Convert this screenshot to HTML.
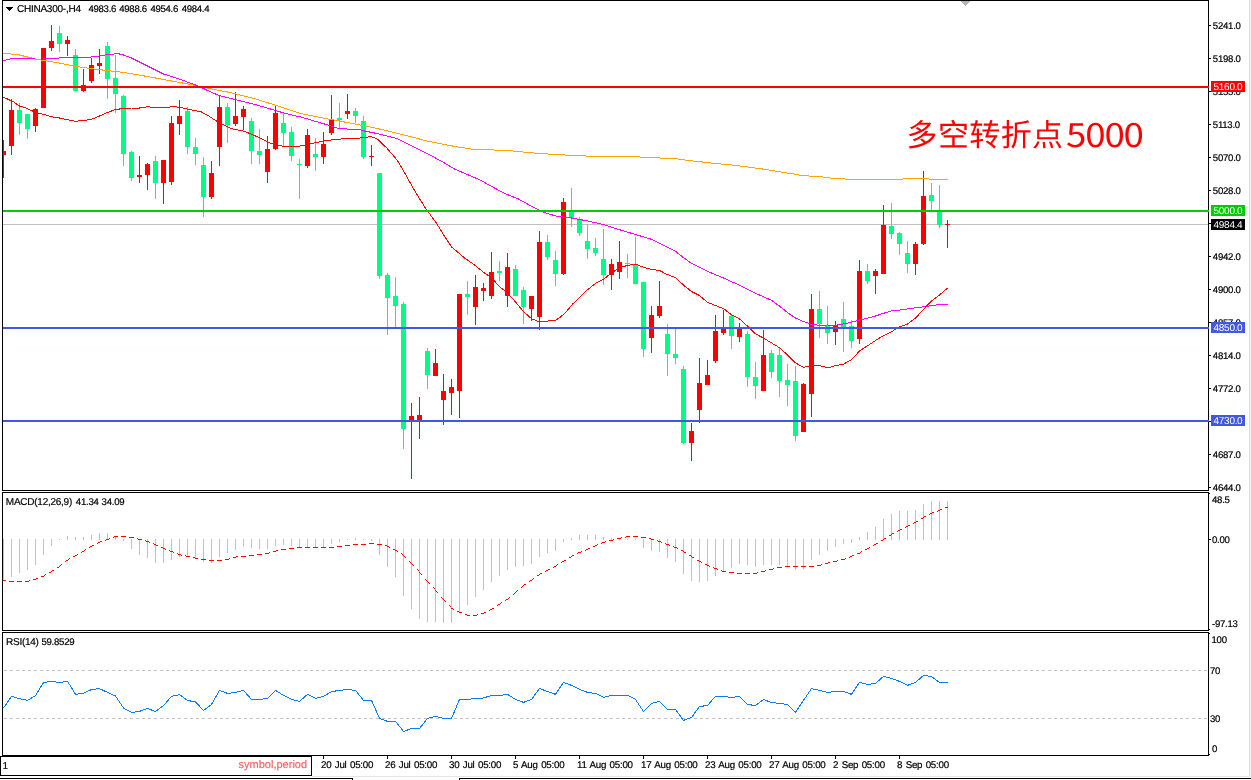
<!DOCTYPE html>
<html lang="zh"><head><meta charset="utf-8"><title>CHINA300-,H4</title>
<style>
html,body{margin:0;padding:0;background:#fff;}
body{text-rendering:geometricPrecision;width:1251px;height:780px;overflow:hidden;position:relative;font-family:"Liberation Sans","Noto Sans CJK SC",sans-serif;}
svg{position:absolute;left:0;top:0;display:block}
.t{position:absolute;white-space:nowrap;font-size:10px;line-height:10px;color:#000;letter-spacing:-0.25px;-webkit-text-stroke:0.2px currentColor}
  .n{font-size:9.6px;letter-spacing:-0.25px}
.d{font-size:9.75px;word-spacing:1px}
.lab{position:absolute;left:1211px;width:34px;height:11px;color:#fff;font-size:10px;line-height:11px;letter-spacing:-0.3px;white-space:nowrap}
.lab span{position:absolute;left:2.6px;top:1px}
.anno{position:absolute;left:906.5px;top:110.5px;letter-spacing:0.4px;font-family:"Noto Sans CJK SC","Liberation Sans",sans-serif;font-size:31px;line-height:44px;color:#ff0000;white-space:nowrap;font-weight:400}
.anno b{font-weight:400;display:inline-block;font-size:32.5px;letter-spacing:-1.05px;transform:scaleX(1.13);transform-origin:0 50%;margin-left:2px;position:relative;top:1.5px}
</style></head><body>
<svg width="1251" height="780" viewBox="0 0 1251 780" shape-rendering="crispEdges">
<rect x="0" y="0" width="1251" height="780" fill="#fff"/>
<rect x="1249" y="0" width="1" height="777" fill="#dcdcdc"/><rect x="1250" y="0" width="1" height="777" fill="#f4f4f4"/>
<rect x="312" y="776" width="938" height="1" fill="#e4e4e4"/>
<rect x="3" y="224" width="1205" height="1" fill="#c0c0c0"/>
<rect x="3" y="140" width="1" height="38" fill="#ff0000"/>
<rect x="3" y="151" width="3" height="4" fill="#ff0000"/>
<rect x="11" y="99" width="1" height="56" fill="#ff0000"/>
<rect x="9" y="110" width="5" height="36" fill="#ff0000"/>
<rect x="19" y="103" width="1" height="32" fill="#00ff7f"/>
<rect x="17" y="110" width="5" height="13" fill="#00ff7f"/>
<rect x="27" y="114" width="1" height="25" fill="#00ff7f"/>
<rect x="25" y="114" width="5" height="15" fill="#00ff7f"/>
<rect x="35" y="108" width="1" height="24" fill="#ff0000"/>
<rect x="33" y="109" width="5" height="17" fill="#ff0000"/>
<rect x="43" y="48" width="1" height="60" fill="#ff0000"/>
<rect x="41" y="48" width="5" height="60" fill="#ff0000"/>
<rect x="51" y="25" width="1" height="26" fill="#ff0000"/>
<rect x="49" y="41" width="5" height="7" fill="#ff0000"/>
<rect x="59" y="26" width="1" height="26" fill="#00ff7f"/>
<rect x="57" y="33" width="5" height="11" fill="#00ff7f"/>
<rect x="67" y="36" width="1" height="20" fill="#ff0000"/>
<rect x="65" y="40" width="5" height="4" fill="#ff0000"/>
<rect x="75" y="49" width="1" height="42" fill="#00ff7f"/>
<rect x="73" y="55" width="5" height="36" fill="#00ff7f"/>
<rect x="83" y="69" width="1" height="23" fill="#ff0000"/>
<rect x="81" y="85" width="5" height="6" fill="#ff0000"/>
<rect x="91" y="58" width="1" height="25" fill="#ff0000"/>
<rect x="89" y="65" width="5" height="16" fill="#ff0000"/>
<rect x="99" y="49" width="1" height="25" fill="#ff0000"/>
<rect x="97" y="63" width="5" height="3" fill="#ff0000"/>
<rect x="107" y="42" width="1" height="57" fill="#00ff7f"/>
<rect x="105" y="46" width="5" height="33" fill="#00ff7f"/>
<rect x="115" y="55" width="1" height="58" fill="#00ff7f"/>
<rect x="113" y="78" width="5" height="16" fill="#00ff7f"/>
<rect x="123" y="95" width="1" height="71" fill="#00ff7f"/>
<rect x="121" y="96" width="5" height="58" fill="#00ff7f"/>
<rect x="131" y="151" width="1" height="30" fill="#00ff7f"/>
<rect x="129" y="152" width="5" height="26" fill="#00ff7f"/>
<rect x="139" y="156" width="1" height="27" fill="#ff0000"/>
<rect x="137" y="175" width="5" height="2" fill="#ff0000"/>
<rect x="147" y="163" width="1" height="27" fill="#ff0000"/>
<rect x="145" y="164" width="5" height="11" fill="#ff0000"/>
<rect x="155" y="156" width="1" height="43" fill="#00ff7f"/>
<rect x="153" y="161" width="5" height="22" fill="#00ff7f"/>
<rect x="163" y="160" width="1" height="44" fill="#ff0000"/>
<rect x="161" y="160" width="5" height="23" fill="#ff0000"/>
<rect x="171" y="116" width="1" height="69" fill="#ff0000"/>
<rect x="169" y="123" width="5" height="59" fill="#ff0000"/>
<rect x="179" y="100" width="1" height="35" fill="#ff0000"/>
<rect x="177" y="116" width="5" height="8" fill="#ff0000"/>
<rect x="187" y="107" width="1" height="47" fill="#00ff7f"/>
<rect x="185" y="111" width="5" height="36" fill="#00ff7f"/>
<rect x="195" y="138" width="1" height="27" fill="#00ff7f"/>
<rect x="193" y="147" width="5" height="7" fill="#00ff7f"/>
<rect x="203" y="157" width="1" height="60" fill="#00ff7f"/>
<rect x="201" y="165" width="5" height="32" fill="#00ff7f"/>
<rect x="211" y="161" width="1" height="38" fill="#ff0000"/>
<rect x="209" y="173" width="5" height="24" fill="#ff0000"/>
<rect x="219" y="96" width="1" height="70" fill="#ff0000"/>
<rect x="217" y="107" width="5" height="40" fill="#ff0000"/>
<rect x="227" y="103" width="1" height="40" fill="#00ff7f"/>
<rect x="225" y="107" width="5" height="18" fill="#00ff7f"/>
<rect x="235" y="92" width="1" height="34" fill="#ff0000"/>
<rect x="233" y="116" width="5" height="8" fill="#ff0000"/>
<rect x="243" y="106" width="1" height="24" fill="#ff0000"/>
<rect x="241" y="109" width="5" height="8" fill="#ff0000"/>
<rect x="251" y="118" width="1" height="46" fill="#00ff7f"/>
<rect x="249" y="121" width="5" height="30" fill="#00ff7f"/>
<rect x="259" y="129" width="1" height="35" fill="#00ff7f"/>
<rect x="257" y="151" width="5" height="4" fill="#00ff7f"/>
<rect x="267" y="136" width="1" height="47" fill="#ff0000"/>
<rect x="265" y="149" width="5" height="23" fill="#ff0000"/>
<rect x="275" y="106" width="1" height="44" fill="#ff0000"/>
<rect x="273" y="113" width="5" height="36" fill="#ff0000"/>
<rect x="283" y="112" width="1" height="34" fill="#00ff7f"/>
<rect x="281" y="123" width="5" height="10" fill="#00ff7f"/>
<rect x="291" y="127" width="1" height="34" fill="#00ff7f"/>
<rect x="289" y="132" width="5" height="24" fill="#00ff7f"/>
<rect x="299" y="159" width="1" height="40" fill="#00ff7f"/>
<rect x="297" y="164" width="5" height="1" fill="#00ff7f"/>
<rect x="307" y="129" width="1" height="39" fill="#ff0000"/>
<rect x="305" y="135" width="5" height="31" fill="#ff0000"/>
<rect x="315" y="138" width="1" height="33" fill="#00ff7f"/>
<rect x="313" y="154" width="5" height="3" fill="#00ff7f"/>
<rect x="323" y="132" width="1" height="32" fill="#ff0000"/>
<rect x="321" y="144" width="5" height="13" fill="#ff0000"/>
<rect x="331" y="95" width="1" height="40" fill="#ff0000"/>
<rect x="329" y="119" width="5" height="14" fill="#ff0000"/>
<rect x="339" y="103" width="1" height="25" fill="#00ff7f"/>
<rect x="337" y="118" width="5" height="2" fill="#00ff7f"/>
<rect x="347" y="94" width="1" height="25" fill="#ff0000"/>
<rect x="345" y="111" width="5" height="3" fill="#ff0000"/>
<rect x="355" y="108" width="1" height="15" fill="#00ff7f"/>
<rect x="353" y="111" width="5" height="5" fill="#00ff7f"/>
<rect x="363" y="116" width="1" height="43" fill="#00ff7f"/>
<rect x="361" y="121" width="5" height="36" fill="#00ff7f"/>
<rect x="371" y="145" width="1" height="21" fill="#ff0000"/>
<rect x="369" y="156" width="5" height="1" fill="#ff0000"/>
<rect x="379" y="173" width="1" height="106" fill="#00ff7f"/>
<rect x="377" y="173" width="5" height="103" fill="#00ff7f"/>
<rect x="387" y="273" width="1" height="62" fill="#00ff7f"/>
<rect x="385" y="275" width="5" height="23" fill="#00ff7f"/>
<rect x="395" y="277" width="1" height="51" fill="#00ff7f"/>
<rect x="393" y="296" width="5" height="10" fill="#00ff7f"/>
<rect x="403" y="302" width="1" height="147" fill="#00ff7f"/>
<rect x="401" y="304" width="5" height="125" fill="#00ff7f"/>
<rect x="411" y="403" width="1" height="76" fill="#ff0000"/>
<rect x="409" y="416" width="5" height="5" fill="#ff0000"/>
<rect x="419" y="397" width="1" height="42" fill="#ff0000"/>
<rect x="417" y="415" width="5" height="6" fill="#ff0000"/>
<rect x="427" y="348" width="1" height="41" fill="#00ff7f"/>
<rect x="425" y="351" width="5" height="24" fill="#00ff7f"/>
<rect x="435" y="349" width="1" height="27" fill="#ff0000"/>
<rect x="433" y="363" width="5" height="13" fill="#ff0000"/>
<rect x="443" y="374" width="1" height="51" fill="#ff0000"/>
<rect x="441" y="391" width="5" height="9" fill="#ff0000"/>
<rect x="451" y="379" width="1" height="36" fill="#ff0000"/>
<rect x="449" y="387" width="5" height="6" fill="#ff0000"/>
<rect x="459" y="294" width="1" height="124" fill="#ff0000"/>
<rect x="457" y="294" width="5" height="97" fill="#ff0000"/>
<rect x="467" y="281" width="1" height="34" fill="#00ff7f"/>
<rect x="465" y="294" width="5" height="3" fill="#00ff7f"/>
<rect x="475" y="275" width="1" height="50" fill="#ff0000"/>
<rect x="473" y="287" width="5" height="20" fill="#ff0000"/>
<rect x="483" y="283" width="1" height="18" fill="#ff0000"/>
<rect x="481" y="288" width="5" height="3" fill="#ff0000"/>
<rect x="491" y="252" width="1" height="47" fill="#ff0000"/>
<rect x="489" y="272" width="5" height="24" fill="#ff0000"/>
<rect x="499" y="261" width="1" height="20" fill="#00ff7f"/>
<rect x="497" y="271" width="5" height="2" fill="#00ff7f"/>
<rect x="507" y="253" width="1" height="54" fill="#ff0000"/>
<rect x="505" y="267" width="5" height="29" fill="#ff0000"/>
<rect x="515" y="265" width="1" height="31" fill="#00ff7f"/>
<rect x="513" y="269" width="5" height="27" fill="#00ff7f"/>
<rect x="523" y="287" width="1" height="37" fill="#00ff7f"/>
<rect x="521" y="290" width="5" height="17" fill="#00ff7f"/>
<rect x="531" y="296" width="1" height="25" fill="#ff0000"/>
<rect x="529" y="296" width="5" height="13" fill="#ff0000"/>
<rect x="539" y="231" width="1" height="99" fill="#ff0000"/>
<rect x="537" y="242" width="5" height="75" fill="#ff0000"/>
<rect x="547" y="235" width="1" height="25" fill="#00ff7f"/>
<rect x="545" y="242" width="5" height="15" fill="#00ff7f"/>
<rect x="555" y="251" width="1" height="35" fill="#00ff7f"/>
<rect x="553" y="260" width="5" height="14" fill="#00ff7f"/>
<rect x="563" y="198" width="1" height="77" fill="#ff0000"/>
<rect x="561" y="202" width="5" height="72" fill="#ff0000"/>
<rect x="571" y="188" width="1" height="39" fill="#00ff7f"/>
<rect x="569" y="210" width="5" height="8" fill="#00ff7f"/>
<rect x="579" y="217" width="1" height="19" fill="#00ff7f"/>
<rect x="577" y="219" width="5" height="14" fill="#00ff7f"/>
<rect x="587" y="224" width="1" height="35" fill="#00ff7f"/>
<rect x="585" y="241" width="5" height="8" fill="#00ff7f"/>
<rect x="595" y="238" width="1" height="18" fill="#00ff7f"/>
<rect x="593" y="248" width="5" height="5" fill="#00ff7f"/>
<rect x="603" y="229" width="1" height="56" fill="#00ff7f"/>
<rect x="601" y="259" width="5" height="16" fill="#00ff7f"/>
<rect x="611" y="259" width="1" height="31" fill="#ff0000"/>
<rect x="609" y="264" width="5" height="11" fill="#ff0000"/>
<rect x="619" y="241" width="1" height="38" fill="#ff0000"/>
<rect x="617" y="262" width="5" height="10" fill="#ff0000"/>
<rect x="627" y="254" width="1" height="24" fill="#00ff7f"/>
<rect x="625" y="263" width="5" height="1" fill="#00ff7f"/>
<rect x="635" y="237" width="1" height="47" fill="#00ff7f"/>
<rect x="633" y="265" width="5" height="19" fill="#00ff7f"/>
<rect x="643" y="282" width="1" height="75" fill="#00ff7f"/>
<rect x="641" y="282" width="5" height="67" fill="#00ff7f"/>
<rect x="651" y="306" width="1" height="47" fill="#ff0000"/>
<rect x="649" y="315" width="5" height="23" fill="#ff0000"/>
<rect x="659" y="281" width="1" height="37" fill="#ff0000"/>
<rect x="657" y="306" width="5" height="10" fill="#ff0000"/>
<rect x="667" y="324" width="1" height="52" fill="#00ff7f"/>
<rect x="665" y="334" width="5" height="20" fill="#00ff7f"/>
<rect x="675" y="329" width="1" height="35" fill="#00ff7f"/>
<rect x="673" y="354" width="5" height="4" fill="#00ff7f"/>
<rect x="683" y="366" width="1" height="78" fill="#00ff7f"/>
<rect x="681" y="369" width="5" height="74" fill="#00ff7f"/>
<rect x="691" y="423" width="1" height="38" fill="#ff0000"/>
<rect x="689" y="431" width="5" height="12" fill="#ff0000"/>
<rect x="699" y="358" width="1" height="65" fill="#ff0000"/>
<rect x="697" y="383" width="5" height="27" fill="#ff0000"/>
<rect x="707" y="360" width="1" height="25" fill="#ff0000"/>
<rect x="705" y="375" width="5" height="10" fill="#ff0000"/>
<rect x="715" y="315" width="1" height="48" fill="#ff0000"/>
<rect x="713" y="331" width="5" height="30" fill="#ff0000"/>
<rect x="723" y="310" width="1" height="25" fill="#ff0000"/>
<rect x="721" y="329" width="5" height="4" fill="#ff0000"/>
<rect x="731" y="315" width="1" height="34" fill="#00ff7f"/>
<rect x="729" y="316" width="5" height="20" fill="#00ff7f"/>
<rect x="739" y="323" width="1" height="19" fill="#ff0000"/>
<rect x="737" y="329" width="5" height="8" fill="#ff0000"/>
<rect x="747" y="331" width="1" height="56" fill="#00ff7f"/>
<rect x="745" y="334" width="5" height="43" fill="#00ff7f"/>
<rect x="755" y="362" width="1" height="37" fill="#00ff7f"/>
<rect x="753" y="377" width="5" height="9" fill="#00ff7f"/>
<rect x="763" y="330" width="1" height="61" fill="#ff0000"/>
<rect x="761" y="355" width="5" height="36" fill="#ff0000"/>
<rect x="771" y="350" width="1" height="28" fill="#00ff7f"/>
<rect x="769" y="353" width="5" height="19" fill="#00ff7f"/>
<rect x="779" y="347" width="1" height="50" fill="#00ff7f"/>
<rect x="777" y="355" width="5" height="26" fill="#00ff7f"/>
<rect x="787" y="364" width="1" height="42" fill="#00ff7f"/>
<rect x="785" y="380" width="5" height="5" fill="#00ff7f"/>
<rect x="795" y="366" width="1" height="75" fill="#00ff7f"/>
<rect x="793" y="381" width="5" height="55" fill="#00ff7f"/>
<rect x="803" y="383" width="1" height="49" fill="#ff0000"/>
<rect x="801" y="384" width="5" height="48" fill="#ff0000"/>
<rect x="811" y="294" width="1" height="123" fill="#ff0000"/>
<rect x="809" y="309" width="5" height="85" fill="#ff0000"/>
<rect x="819" y="291" width="1" height="47" fill="#00ff7f"/>
<rect x="817" y="309" width="5" height="15" fill="#00ff7f"/>
<rect x="827" y="306" width="1" height="38" fill="#00ff7f"/>
<rect x="825" y="326" width="5" height="7" fill="#00ff7f"/>
<rect x="835" y="321" width="1" height="24" fill="#ff0000"/>
<rect x="833" y="325" width="5" height="7" fill="#ff0000"/>
<rect x="843" y="302" width="1" height="50" fill="#00ff7f"/>
<rect x="841" y="319" width="5" height="8" fill="#00ff7f"/>
<rect x="851" y="320" width="1" height="28" fill="#00ff7f"/>
<rect x="849" y="326" width="5" height="15" fill="#00ff7f"/>
<rect x="859" y="260" width="1" height="84" fill="#ff0000"/>
<rect x="857" y="271" width="5" height="68" fill="#ff0000"/>
<rect x="867" y="264" width="1" height="20" fill="#00ff7f"/>
<rect x="865" y="271" width="5" height="10" fill="#00ff7f"/>
<rect x="875" y="269" width="1" height="25" fill="#ff0000"/>
<rect x="873" y="271" width="5" height="5" fill="#ff0000"/>
<rect x="883" y="205" width="1" height="69" fill="#ff0000"/>
<rect x="881" y="225" width="5" height="49" fill="#ff0000"/>
<rect x="891" y="203" width="1" height="36" fill="#00ff7f"/>
<rect x="889" y="226" width="5" height="8" fill="#00ff7f"/>
<rect x="899" y="232" width="1" height="23" fill="#00ff7f"/>
<rect x="897" y="233" width="5" height="11" fill="#00ff7f"/>
<rect x="907" y="241" width="1" height="32" fill="#00ff7f"/>
<rect x="905" y="253" width="5" height="11" fill="#00ff7f"/>
<rect x="915" y="242" width="1" height="33" fill="#ff0000"/>
<rect x="913" y="244" width="5" height="20" fill="#ff0000"/>
<rect x="923" y="171" width="1" height="74" fill="#ff0000"/>
<rect x="921" y="196" width="5" height="48" fill="#ff0000"/>
<rect x="931" y="183" width="1" height="29" fill="#00ff7f"/>
<rect x="929" y="195" width="5" height="6" fill="#00ff7f"/>
<rect x="939" y="185" width="1" height="43" fill="#00ff7f"/>
<rect x="937" y="210" width="5" height="15" fill="#00ff7f"/>
<rect x="947" y="220" width="1" height="28" fill="#ff0000"/>
<rect x="945" y="224" width="5" height="1" fill="#ff0000"/>
<polyline points="3.5,53.1 19.5,55.0 35.5,59.0 43.5,60.4 59.5,63.1 75.5,66.3 91.5,68.7 107.5,70.6 123.5,72.4 139.5,75.1 155.5,78.0 171.5,81.0 187.5,83.9 195.5,85.5 205.5,87.7 231.5,92.8 256.5,99.2 282.5,107.4 300.5,113.6 326.5,118.7 351.5,123.3 377.5,128.5 403.5,134.9 428.5,141.3 454.5,146.4 474.5,149.5 505.5,150.3 531.5,152.8 556.5,154.6 582.5,155.9 608.5,156.7 638.5,156.7 641.5,157.2 664.5,158.2 677.5,159.0 690.5,160.8 703.5,162.1 715.5,163.6 728.5,164.6 741.5,166.2 754.5,167.9 767.5,169.7 779.5,171.8 792.5,173.8 800.5,175.2 808.5,176.0 824.5,177.1 832.5,178.4 848.5,179.2 902.5,179.2 904.5,178.1 927.5,178.1 929.5,179.5 947.5,179.5" fill="none" stroke="#ffa500" stroke-width="1" />
<polyline points="3.5,60.7 11.5,58.6 35.5,59.0 43.5,59.0 59.5,58.0 75.5,57.5 91.5,57.0 99.5,55.9 107.5,54.7 115.5,53.9 119.5,54.0 123.5,55.0 131.5,58.0 147.5,66.0 163.5,74.0 179.5,79.1 195.5,85.0 205.5,89.5 218.5,95.4 231.5,98.7 244.5,101.8 256.5,104.9 269.5,108.7 282.5,112.6 295.5,115.9 300.5,116.9 326.5,124.6 338.5,128.5 359.5,129.7 364.5,131.0 377.5,133.6 397.5,138.7 415.5,147.7 428.5,154.1 441.5,161.3 454.5,169.0 467.5,174.6 479.5,179.7 492.5,186.9 505.5,193.8 518.5,199.0 531.5,206.2 544.5,212.6 556.5,216.2 571.5,218.0 587.5,220.9 603.5,224.6 619.5,229.7 635.5,234.5 651.5,239.3 667.5,247.3 675.5,251.3 683.5,257.7 691.5,263.3 707.5,271.3 723.5,278.0 739.5,285.2 755.5,293.2 771.5,300.4 779.5,306.1 787.5,312.5 795.5,318.1 803.5,321.5 811.5,324.4 819.5,325.3 827.5,325.0 835.5,325.3 843.5,324.0 851.5,322.1 859.5,320.0 867.5,318.1 875.5,316.0 883.5,313.3 891.5,310.9 899.5,310.1 907.5,309.0 915.5,307.7 923.5,306.9 931.5,305.6 939.5,304.5 947.5,304.5" fill="none" stroke="#ff00ff" stroke-width="1" />
<polyline points="3.5,97.2 13.5,101.8 19.5,106.0 26.5,108.2 35.5,112.4 43.5,114.4 51.5,116.7 59.5,118.0 64.5,119.2 75.5,121.3 83.5,120.5 91.5,119.3 99.5,116.0 107.5,112.4 115.5,109.6 123.5,108.4 131.5,108.0 139.5,108.0 147.5,106.8 155.5,107.5 163.5,108.0 171.5,106.8 179.5,107.1 187.5,109.2 195.5,110.8 200.5,111.5 208.5,115.9 218.5,122.3 231.5,128.7 244.5,131.3 256.5,136.4 269.5,142.8 282.5,146.2 295.5,146.7 300.5,145.9 313.5,143.1 326.5,140.5 338.5,139.2 351.5,138.2 364.5,137.9 370.5,136.2 377.5,139.2 386.5,147.7 397.5,160.5 403.5,170.8 413.5,188.7 424.5,206.7 436.5,223.3 444.5,236.2 451.5,246.9 464.5,257.9 474.5,265.0 483.5,272.2 491.5,277.8 499.5,286.6 507.5,293.0 515.5,301.9 523.5,311.5 531.5,318.7 539.5,321.9 547.5,321.1 555.5,320.3 560.5,317.1 566.5,311.5 572.5,304.2 579.5,297.8 587.5,289.8 595.5,283.4 603.5,279.4 611.5,272.9 619.5,267.8 627.5,265.4 635.5,264.1 643.5,267.3 651.5,269.4 659.5,270.5 667.5,274.6 675.5,277.5 683.5,285.1 691.5,291.5 699.5,295.5 707.5,302.2 715.5,305.6 723.5,308.5 731.5,314.9 739.5,318.9 747.5,326.1 755.5,333.8 763.5,338.1 771.5,342.9 779.5,347.7 787.5,354.9 795.5,362.9 803.5,367.5 807.5,366.2 811.5,365.5 819.5,365.5 828.0,367.8 835.5,365.7 843.5,364.1 851.5,359.8 859.5,351.0 867.5,345.8 875.5,340.5 883.5,335.7 891.5,331.7 899.5,326.9 907.5,324.0 915.5,318.1 923.5,309.3 931.5,301.0 939.5,294.9 947.5,288.1" fill="none" stroke="#ff0000" stroke-width="1" />
<rect x="3" y="539" width="1" height="42" fill="#c0c0c0"/>
<rect x="11" y="539" width="1" height="38" fill="#c0c0c0"/>
<rect x="19" y="539" width="1" height="34" fill="#c0c0c0"/>
<rect x="27" y="539" width="1" height="31" fill="#c0c0c0"/>
<rect x="35" y="539" width="1" height="26" fill="#c0c0c0"/>
<rect x="43" y="539" width="1" height="16" fill="#c0c0c0"/>
<rect x="51" y="539" width="1" height="7" fill="#c0c0c0"/>
<rect x="59" y="539" width="1" height="1" fill="#c0c0c0"/>
<rect x="67" y="536" width="1" height="4" fill="#c0c0c0"/>
<rect x="75" y="537" width="1" height="3" fill="#c0c0c0"/>
<rect x="83" y="537" width="1" height="3" fill="#c0c0c0"/>
<rect x="91" y="535" width="1" height="5" fill="#c0c0c0"/>
<rect x="99" y="533" width="1" height="7" fill="#c0c0c0"/>
<rect x="107" y="533" width="1" height="7" fill="#c0c0c0"/>
<rect x="115" y="536" width="1" height="4" fill="#c0c0c0"/>
<rect x="123" y="539" width="1" height="2" fill="#c0c0c0"/>
<rect x="131" y="539" width="1" height="10" fill="#c0c0c0"/>
<rect x="139" y="539" width="1" height="16" fill="#c0c0c0"/>
<rect x="147" y="539" width="1" height="19" fill="#c0c0c0"/>
<rect x="155" y="539" width="1" height="24" fill="#c0c0c0"/>
<rect x="163" y="539" width="1" height="24" fill="#c0c0c0"/>
<rect x="171" y="539" width="1" height="21" fill="#c0c0c0"/>
<rect x="179" y="539" width="1" height="18" fill="#c0c0c0"/>
<rect x="187" y="539" width="1" height="17" fill="#c0c0c0"/>
<rect x="195" y="539" width="1" height="19" fill="#c0c0c0"/>
<rect x="203" y="539" width="1" height="23" fill="#c0c0c0"/>
<rect x="211" y="539" width="1" height="24" fill="#c0c0c0"/>
<rect x="219" y="539" width="1" height="18" fill="#c0c0c0"/>
<rect x="227" y="539" width="1" height="14" fill="#c0c0c0"/>
<rect x="235" y="539" width="1" height="11" fill="#c0c0c0"/>
<rect x="243" y="539" width="1" height="8" fill="#c0c0c0"/>
<rect x="251" y="539" width="1" height="9" fill="#c0c0c0"/>
<rect x="259" y="539" width="1" height="10" fill="#c0c0c0"/>
<rect x="267" y="539" width="1" height="10" fill="#c0c0c0"/>
<rect x="275" y="539" width="1" height="7" fill="#c0c0c0"/>
<rect x="283" y="539" width="1" height="6" fill="#c0c0c0"/>
<rect x="291" y="539" width="1" height="7" fill="#c0c0c0"/>
<rect x="299" y="539" width="1" height="8" fill="#c0c0c0"/>
<rect x="307" y="539" width="1" height="8" fill="#c0c0c0"/>
<rect x="315" y="539" width="1" height="8" fill="#c0c0c0"/>
<rect x="323" y="539" width="1" height="8" fill="#c0c0c0"/>
<rect x="331" y="539" width="1" height="5" fill="#c0c0c0"/>
<rect x="339" y="539" width="1" height="3" fill="#c0c0c0"/>
<rect x="347" y="539" width="1" height="1" fill="#c0c0c0"/>
<rect x="355" y="538" width="1" height="2" fill="#c0c0c0"/>
<rect x="363" y="539" width="1" height="1" fill="#c0c0c0"/>
<rect x="371" y="539" width="1" height="2" fill="#c0c0c0"/>
<rect x="379" y="539" width="1" height="16" fill="#c0c0c0"/>
<rect x="387" y="539" width="1" height="28" fill="#c0c0c0"/>
<rect x="395" y="539" width="1" height="38" fill="#c0c0c0"/>
<rect x="403" y="539" width="1" height="57" fill="#c0c0c0"/>
<rect x="411" y="539" width="1" height="70" fill="#c0c0c0"/>
<rect x="419" y="539" width="1" height="80" fill="#c0c0c0"/>
<rect x="427" y="539" width="1" height="83" fill="#c0c0c0"/>
<rect x="435" y="539" width="1" height="83" fill="#c0c0c0"/>
<rect x="443" y="539" width="1" height="84" fill="#c0c0c0"/>
<rect x="451" y="539" width="1" height="84" fill="#c0c0c0"/>
<rect x="459" y="539" width="1" height="73" fill="#c0c0c0"/>
<rect x="467" y="539" width="1" height="66" fill="#c0c0c0"/>
<rect x="475" y="539" width="1" height="58" fill="#c0c0c0"/>
<rect x="483" y="539" width="1" height="51" fill="#c0c0c0"/>
<rect x="491" y="539" width="1" height="43" fill="#c0c0c0"/>
<rect x="499" y="539" width="1" height="37" fill="#c0c0c0"/>
<rect x="507" y="539" width="1" height="31" fill="#c0c0c0"/>
<rect x="515" y="539" width="1" height="28" fill="#c0c0c0"/>
<rect x="523" y="539" width="1" height="27" fill="#c0c0c0"/>
<rect x="531" y="539" width="1" height="25" fill="#c0c0c0"/>
<rect x="539" y="539" width="1" height="18" fill="#c0c0c0"/>
<rect x="547" y="539" width="1" height="14" fill="#c0c0c0"/>
<rect x="555" y="539" width="1" height="12" fill="#c0c0c0"/>
<rect x="563" y="539" width="1" height="3" fill="#c0c0c0"/>
<rect x="571" y="538" width="1" height="2" fill="#c0c0c0"/>
<rect x="579" y="535" width="1" height="5" fill="#c0c0c0"/>
<rect x="587" y="535" width="1" height="5" fill="#c0c0c0"/>
<rect x="595" y="535" width="1" height="5" fill="#c0c0c0"/>
<rect x="603" y="537" width="1" height="3" fill="#c0c0c0"/>
<rect x="611" y="538" width="1" height="2" fill="#c0c0c0"/>
<rect x="619" y="538" width="1" height="2" fill="#c0c0c0"/>
<rect x="627" y="539" width="1" height="1" fill="#c0c0c0"/>
<rect x="635" y="539" width="1" height="1" fill="#c0c0c0"/>
<rect x="643" y="539" width="1" height="9" fill="#c0c0c0"/>
<rect x="651" y="539" width="1" height="12" fill="#c0c0c0"/>
<rect x="659" y="539" width="1" height="13" fill="#c0c0c0"/>
<rect x="667" y="539" width="1" height="19" fill="#c0c0c0"/>
<rect x="675" y="539" width="1" height="23" fill="#c0c0c0"/>
<rect x="683" y="539" width="1" height="35" fill="#c0c0c0"/>
<rect x="691" y="539" width="1" height="42" fill="#c0c0c0"/>
<rect x="699" y="539" width="1" height="43" fill="#c0c0c0"/>
<rect x="707" y="539" width="1" height="42" fill="#c0c0c0"/>
<rect x="715" y="539" width="1" height="37" fill="#c0c0c0"/>
<rect x="723" y="539" width="1" height="33" fill="#c0c0c0"/>
<rect x="731" y="539" width="1" height="29" fill="#c0c0c0"/>
<rect x="739" y="539" width="1" height="25" fill="#c0c0c0"/>
<rect x="747" y="539" width="1" height="26" fill="#c0c0c0"/>
<rect x="755" y="539" width="1" height="28" fill="#c0c0c0"/>
<rect x="763" y="539" width="1" height="26" fill="#c0c0c0"/>
<rect x="771" y="539" width="1" height="26" fill="#c0c0c0"/>
<rect x="779" y="539" width="1" height="26" fill="#c0c0c0"/>
<rect x="787" y="539" width="1" height="28" fill="#c0c0c0"/>
<rect x="795" y="539" width="1" height="31" fill="#c0c0c0"/>
<rect x="803" y="539" width="1" height="30" fill="#c0c0c0"/>
<rect x="811" y="539" width="1" height="21" fill="#c0c0c0"/>
<rect x="819" y="539" width="1" height="16" fill="#c0c0c0"/>
<rect x="827" y="539" width="1" height="12" fill="#c0c0c0"/>
<rect x="835" y="539" width="1" height="8" fill="#c0c0c0"/>
<rect x="843" y="539" width="1" height="5" fill="#c0c0c0"/>
<rect x="851" y="539" width="1" height="4" fill="#c0c0c0"/>
<rect x="859" y="537" width="1" height="3" fill="#c0c0c0"/>
<rect x="867" y="532" width="1" height="8" fill="#c0c0c0"/>
<rect x="875" y="527" width="1" height="13" fill="#c0c0c0"/>
<rect x="883" y="519" width="1" height="21" fill="#c0c0c0"/>
<rect x="891" y="514" width="1" height="26" fill="#c0c0c0"/>
<rect x="899" y="511" width="1" height="29" fill="#c0c0c0"/>
<rect x="907" y="511" width="1" height="29" fill="#c0c0c0"/>
<rect x="915" y="510" width="1" height="30" fill="#c0c0c0"/>
<rect x="923" y="504" width="1" height="36" fill="#c0c0c0"/>
<rect x="931" y="501" width="1" height="39" fill="#c0c0c0"/>
<rect x="939" y="501" width="1" height="39" fill="#c0c0c0"/>
<rect x="947" y="501" width="1" height="39" fill="#c0c0c0"/>
<path d="M3 580h3v1h-3zM9 581h5v1h-5zM17 581h5v1h-5zM25 581h4v1h-4zM29 580h1v1h-1zM33 579h3v1h-3zM36 578h2v1h-2zM41 576h3v1h-3zM44 575h1v1h-1zM45 574h1v1h-1zM49 572h2v1h-2zM51 571h1v1h-1zM52 570h2v1h-2zM57 567h2v1h-2zM59 566h1v1h-1zM60 565h1v1h-1zM61 564h1v1h-1zM65 561h1v1h-1zM66 560h2v1h-2zM68 559h1v1h-1zM69 558h1v1h-1zM73 556h2v1h-2zM75 555h2v1h-2zM77 554h1v1h-1zM81 552h1v1h-1zM82 551h2v1h-2zM84 550h1v1h-1zM85 549h1v1h-1zM89 547h1v1h-1zM90 546h2v1h-2zM92 545h2v1h-2zM97 543h1v1h-1zM98 542h2v1h-2zM100 541h2v1h-2zM105 540h1v1h-1zM106 539h3v1h-3zM109 538h1v1h-1zM113 537h1v1h-1zM114 536h4v1h-4zM121 536h5v1h-5zM129 537h5v1h-5zM137 538h1v1h-1zM138 539h4v1h-4zM145 540h1v1h-1zM146 541h3v1h-3zM149 542h1v1h-1zM153 543h1v1h-1zM154 544h2v1h-2zM156 545h2v1h-2zM161 547h2v1h-2zM163 548h2v1h-2zM165 549h1v1h-1zM169 550h1v1h-1zM170 551h3v1h-3zM173 552h1v1h-1zM177 553h1v1h-1zM178 554h3v1h-3zM181 555h1v1h-1zM185 555h1v1h-1zM186 556h4v1h-4zM193 557h2v1h-2zM195 558h3v1h-3zM201 559h5v1h-5zM209 560h5v1h-5zM217 560h5v1h-5zM225 559h4v1h-4zM229 558h1v1h-1zM233 557h3v1h-3zM236 556h2v1h-2zM241 556h5v1h-5zM249 555h5v1h-5zM257 554h5v1h-5zM265 553h4v1h-4zM269 552h1v1h-1zM273 551h3v1h-3zM276 550h2v1h-2zM281 549h5v1h-5zM289 548h5v1h-5zM297 547h5v1h-5zM305 547h5v1h-5zM313 547h5v1h-5zM321 547h5v1h-5zM329 547h5v1h-5zM337 546h5v1h-5zM345 545h5v1h-5zM353 544h5v1h-5zM361 544h5v1h-5zM369 543h5v1h-5zM377 544h5v1h-5zM385 545h2v1h-2zM387 546h2v1h-2zM389 547h1v1h-1zM393 549h2v1h-2zM395 550h2v1h-2zM397 551h1v1h-1zM401 553h1v1h-1zM402 554h1v1h-1zM403 555h1v1h-1zM404 556h1v1h-1zM405 557h1v1h-1zM409 561h1v1h-1zM410 562h1v1h-1zM411 563h1v1h-1zM412 564h1v1h-1zM413 565h1v1h-1zM417 569h1v1h-1zM418 570h1v1h-1zM419 572h1v1h-1zM420 573h1v1h-1zM421 574h1v1h-1zM425 579h1v1h-1zM426 580h1v1h-1zM427 581h1v1h-1zM428 582h1v1h-1zM429 583h1v1h-1zM433 587h1v1h-1zM434 588h1v1h-1zM435 590h1v1h-1zM436 591h1v1h-1zM437 592h1v1h-1zM441 597h1v1h-1zM442 598h1v1h-1zM443 599h1v1h-1zM444 600h1v1h-1zM445 601h1v1h-1zM449 605h1v1h-1zM450 606h1v1h-1zM451 608h2v1h-2zM453 609h1v1h-1zM457 611h2v1h-2zM459 612h3v1h-3zM465 614h2v1h-2zM467 615h3v1h-3zM473 615h4v1h-4zM477 614h1v1h-1zM481 613h3v1h-3zM484 612h2v1h-2zM489 610h1v1h-1zM490 609h2v1h-2zM492 608h2v1h-2zM497 605h1v1h-1zM498 604h2v1h-2zM500 603h1v1h-1zM501 602h1v1h-1zM505 600h1v1h-1zM506 599h2v1h-2zM508 598h1v1h-1zM509 597h1v1h-1zM513 594h1v1h-1zM514 593h1v1h-1zM515 592h1v1h-1zM516 591h1v1h-1zM517 590h1v1h-1zM521 587h1v1h-1zM522 586h1v1h-1zM523 585h1v1h-1zM524 584h2v1h-2zM529 581h1v1h-1zM530 580h2v1h-2zM532 579h1v1h-1zM533 578h1v1h-1zM537 575h2v1h-2zM539 574h1v1h-1zM540 573h2v1h-2zM545 571h1v1h-1zM546 570h2v1h-2zM548 569h2v1h-2zM553 567h1v1h-1zM554 566h2v1h-2zM556 565h1v1h-1zM557 564h1v1h-1zM561 562h1v1h-1zM562 561h2v1h-2zM564 560h2v1h-2zM569 557h2v1h-2zM571 556h1v1h-1zM572 555h2v1h-2zM577 553h1v1h-1zM578 552h3v1h-3zM581 551h1v1h-1zM585 550h1v1h-1zM586 549h2v1h-2zM588 548h2v1h-2zM593 546h2v1h-2zM595 545h2v1h-2zM597 544h1v1h-1zM601 543h1v1h-1zM602 542h3v1h-3zM605 541h1v1h-1zM609 540h4v1h-4zM613 539h1v1h-1zM617 538h4v1h-4zM621 537h1v1h-1zM625 537h1v1h-1zM626 536h4v1h-4zM633 536h5v1h-5zM641 537h5v1h-5zM649 538h2v1h-2zM651 539h3v1h-3zM657 540h1v1h-1zM658 541h3v1h-3zM661 542h1v1h-1zM665 543h1v1h-1zM666 544h3v1h-3zM669 545h1v1h-1zM673 546h1v1h-1zM674 547h3v1h-3zM677 548h1v1h-1zM681 550h2v1h-2zM683 551h1v1h-1zM684 552h2v1h-2zM689 555h2v1h-2zM691 556h1v1h-1zM692 557h2v1h-2zM697 560h2v1h-2zM699 561h2v1h-2zM701 562h1v1h-1zM705 564h2v1h-2zM707 565h2v1h-2zM709 566h1v1h-1zM713 567h1v1h-1zM714 568h3v1h-3zM717 569h1v1h-1zM721 570h1v1h-1zM722 571h4v1h-4zM729 572h5v1h-5zM737 573h5v1h-5zM745 573h5v1h-5zM753 573h4v1h-4zM757 572h1v1h-1zM761 571h4v1h-4zM765 570h1v1h-1zM769 569h4v1h-4zM773 568h1v1h-1zM777 567h5v1h-5zM785 566h5v1h-5zM793 566h5v1h-5zM801 566h5v1h-5zM809 566h5v1h-5zM817 565h4v1h-4zM821 564h1v1h-1zM825 563h3v1h-3zM828 562h2v1h-2zM833 561h4v1h-4zM837 560h1v1h-1zM841 559h4v1h-4zM845 558h1v1h-1zM849 557h1v1h-1zM850 556h2v1h-2zM852 555h2v1h-2zM857 553h3v1h-3zM860 552h1v1h-1zM861 551h1v1h-1zM865 549h2v1h-2zM867 548h2v1h-2zM869 547h1v1h-1zM873 545h1v1h-1zM874 544h2v1h-2zM876 543h2v1h-2zM881 540h2v1h-2zM883 539h1v1h-1zM884 538h2v1h-2zM889 535h2v1h-2zM891 534h1v1h-1zM892 533h2v1h-2zM897 531h1v1h-1zM898 530h2v1h-2zM900 529h2v1h-2zM905 527h1v1h-1zM906 526h2v1h-2zM908 525h2v1h-2zM913 523h1v1h-1zM914 522h2v1h-2zM916 521h2v1h-2zM921 518h2v1h-2zM923 517h1v1h-1zM924 516h2v1h-2zM929 514h1v1h-1zM930 513h2v1h-2zM932 512h2v1h-2zM937 511h1v1h-1zM938 510h2v1h-2zM940 509h2v1h-2zM945 507h3v1h-3z" fill="#ff0000"/>
<path d="M4 670.5H1208M4 718.5H1208" stroke="#c0c0c0" stroke-width="1" stroke-dasharray="3 3" fill="none"/>
<polyline points="3.5,708.0 11.5,696.4 19.5,698.6 27.5,700.4 35.5,695.6 43.5,682.6 51.5,681.2 59.5,682.6 67.5,681.2 75.5,694.4 83.5,693.2 91.5,689.6 99.5,688.6 107.5,692.4 115.5,696.0 123.5,708.0 131.5,712.4 139.5,711.4 147.5,708.4 155.5,711.6 163.5,705.6 171.5,696.4 179.5,694.6 187.5,700.4 195.5,702.0 203.5,710.4 211.5,704.4 219.5,690.4 227.5,693.4 235.5,692.4 243.5,690.4 251.5,699.4 259.5,699.4 267.5,698.4 275.5,690.4 283.5,695.4 291.5,699.4 299.5,701.4 307.5,694.4 315.5,698.4 323.5,696.4 331.5,691.6 339.5,690.4 347.5,689.4 355.5,690.4 363.5,700.4 371.5,700.4 379.5,718.4 387.5,721.4 395.5,721.4 403.5,731.4 411.5,728.6 419.5,728.6 427.5,718.4 435.5,716.4 443.5,718.4 451.5,718.4 459.5,699.4 467.5,699.4 475.5,698.4 483.5,698.0 491.5,695.4 499.5,695.4 507.5,694.4 515.5,699.4 523.5,702.4 531.5,699.4 539.5,688.6 547.5,691.4 555.5,694.4 563.5,682.4 571.5,685.4 579.5,689.4 587.5,692.4 595.5,693.4 603.5,697.4 611.5,695.4 619.5,695.4 627.5,695.4 635.5,699.4 643.5,711.4 651.5,703.4 659.5,701.4 667.5,709.4 675.5,709.4 683.5,720.4 691.5,717.4 699.5,706.6 707.5,705.4 715.5,696.4 723.5,696.4 731.5,697.4 739.5,696.4 747.5,704.4 755.5,705.6 763.5,699.6 771.5,702.4 779.5,703.4 787.5,704.4 795.5,712.4 803.5,700.4 811.5,688.6 819.5,690.4 827.5,692.4 835.5,691.4 843.5,691.4 851.5,694.4 859.5,682.4 867.5,684.4 875.5,683.4 883.5,676.4 891.5,678.4 899.5,681.4 907.5,685.4 915.5,682.4 923.5,675.4 931.5,676.4 939.5,682.4 947.5,682.4" fill="none" stroke="#087cff" stroke-width="1" />
<rect x="961" y="1" width="9" height="1" fill="#b4b4b4"/>
<rect x="962" y="2" width="7" height="1" fill="#b4b4b4"/>
<rect x="963" y="3" width="5" height="1" fill="#b4b4b4"/>
<rect x="964" y="4" width="3" height="1" fill="#b4b4b4"/>
<rect x="965" y="5" width="1" height="1" fill="#b4b4b4"/>
<g fill="#000">
<rect x="2" y="0" width="1207" height="1"/>
<rect x="2" y="0" width="1" height="756"/>
<rect x="1208" y="0" width="1" height="756"/>
<rect x="2" y="490" width="1207" height="1"/>
<rect x="2" y="492" width="1207" height="1"/>
<rect x="2" y="630" width="1207" height="1"/>
<rect x="2" y="632" width="1207" height="1"/>
<rect x="2" y="755" width="1207" height="1"/>
<rect x="2" y="491" width="1207" height="1" fill="#fff"/>
<rect x="2" y="631" width="1207" height="1" fill="#fff"/>
<rect x="1209" y="25" width="2" height="1"/>
<rect x="1209" y="58" width="2" height="1"/>
<rect x="1209" y="91" width="2" height="1"/>
<rect x="1209" y="124" width="2" height="1"/>
<rect x="1209" y="157" width="2" height="1"/>
<rect x="1209" y="190" width="2" height="1"/>
<rect x="1209" y="223" width="2" height="1"/>
<rect x="1209" y="256" width="2" height="1"/>
<rect x="1209" y="289" width="2" height="1"/>
<rect x="1209" y="322" width="2" height="1"/>
<rect x="1209" y="355" width="2" height="1"/>
<rect x="1209" y="388" width="2" height="1"/>
<rect x="1209" y="421" width="2" height="1"/>
<rect x="1209" y="454" width="2" height="1"/>
<rect x="1209" y="487" width="2" height="1"/>
<rect x="1209" y="539" width="2" height="1"/>
<rect x="1209" y="493" width="1" height="1"/>
<rect x="1209" y="629" width="1" height="1"/>
<rect x="1209" y="633" width="1" height="1"/>
<rect x="1209" y="754" width="1" height="1"/>
<rect x="323" y="756" width="1" height="3"/>
<rect x="387" y="756" width="1" height="3"/>
<rect x="451" y="756" width="1" height="3"/>
<rect x="515" y="756" width="1" height="3"/>
<rect x="579" y="756" width="1" height="3"/>
<rect x="643" y="756" width="1" height="3"/>
<rect x="707" y="756" width="1" height="3"/>
<rect x="771" y="756" width="1" height="3"/>
<rect x="835" y="756" width="1" height="3"/>
<rect x="899" y="756" width="1" height="3"/>
<rect x="0" y="756" width="312" height="1"/><rect x="0" y="775" width="312" height="1"/><rect x="0" y="756" width="1" height="20"/><rect x="311" y="756" width="1" height="20"/>
<rect x="0" y="778" width="353" height="1"/><rect x="352" y="778" width="1" height="2"/>
<rect x="459" y="778" width="792" height="1"/><rect x="459" y="778" width="1" height="2"/>
<path d="M6 7h7l-3.5 4z"/>
</g>
<rect x="3" y="86" width="1206" height="2" fill="#ff0000"/>
<rect x="3" y="210" width="1206" height="2" fill="#00cc00"/>
<rect x="3" y="327" width="1206" height="2" fill="#4158e1"/>
<rect x="3" y="420" width="1206" height="2" fill="#4158e1"/>
</svg>
<div class="t" style="left:17px;top:5px;">CHINA300-,H4</div>
<div class="t n" style="left:88.5px;top:5px;letter-spacing:-0.3px">4983.6</div>
<div class="t n" style="left:119.3px;top:5px;letter-spacing:-0.3px">4988.6</div>
<div class="t n" style="left:150.4px;top:5px;letter-spacing:-0.3px">4954.6</div>
<div class="t n" style="left:181.7px;top:5px;letter-spacing:-0.3px">4984.4</div>
<div class="t" style="left:5.8px;top:498px;">MACD(12,26,9)</div>
<div class="t n" style="left:75.8px;top:498px;">41.34</div>
<div class="t n" style="left:101.6px;top:498px;">34.09</div>
<div class="t" style="left:6px;top:638px;">RSI(14)</div>
<div class="t n" style="left:41.4px;top:638px;">59.8529</div>
<div class="t n" style="left:1212.8px;top:22px;">5241.0</div>
<div class="t n" style="left:1212.8px;top:55px;">5198.0</div>
<div class="t n" style="left:1212.8px;top:88px;">5155.0</div>
<div class="t n" style="left:1212.8px;top:121px;">5113.0</div>
<div class="t n" style="left:1212.8px;top:154px;">5070.0</div>
<div class="t n" style="left:1212.8px;top:187px;">5028.0</div>
<div class="t n" style="left:1212.8px;top:220px;">4985.0</div>
<div class="t n" style="left:1212.8px;top:253px;">4942.0</div>
<div class="t n" style="left:1212.8px;top:286px;">4900.0</div>
<div class="t n" style="left:1212.8px;top:319px;">4857.0</div>
<div class="t n" style="left:1212.8px;top:352px;">4814.0</div>
<div class="t n" style="left:1212.8px;top:385px;">4772.0</div>
<div class="t n" style="left:1212.8px;top:418px;">4730.0</div>
<div class="t n" style="left:1212.8px;top:451px;">4687.0</div>
<div class="t n" style="left:1212.8px;top:484px;">4644.0</div>
<div class="t n" style="left:1212px;top:496px;">48.5</div>
<div class="t n" style="left:1212px;top:536px;">0.00</div>
<div class="t n" style="left:1212px;top:620px;">-97.13</div>
<div class="t n" style="left:1211.5px;top:636px;">100</div>
<div class="t n" style="left:1210px;top:667px;">70</div>
<div class="t n" style="left:1210px;top:715px;">30</div>
<div class="t n" style="left:1212px;top:745px;">0</div>
<div class="t d" style="left:321px;top:761px;">20 Jul 05:00</div>
<div class="t d" style="left:385px;top:761px;">26 Jul 05:00</div>
<div class="t d" style="left:449px;top:761px;">30 Jul 05:00</div>
<div class="t d" style="left:513px;top:761px;">5 Aug 05:00</div>
<div class="t d" style="left:577px;top:761px;">11 Aug 05:00</div>
<div class="t d" style="left:641px;top:761px;">17 Aug 05:00</div>
<div class="t d" style="left:705px;top:761px;">23 Aug 05:00</div>
<div class="t d" style="left:769px;top:761px;">27 Aug 05:00</div>
<div class="t d" style="left:833px;top:761px;">2 Sep 05:00</div>
<div class="t d" style="left:897px;top:761px;">8 Sep 05:00</div>
<div class="t" style="left:2.5px;top:761.5px;">1</div>
<div class="t" style="left:238.6px;top:760px;font-size:11px;color:#ff6464;letter-spacing:0">symbol,period</div>
<div class="lab" style="top:81px;background:#ff0000"><span>5160.0</span></div>
<div class="lab" style="top:205px;background:#00cc00"><span>5000.0</span></div>
<div class="lab" style="top:219px;background:#000"><span>4984.4</span></div>
<div class="lab" style="top:322px;background:#4158e1"><span>4850.0</span></div>
<div class="lab" style="top:415px;background:#4158e1"><span>4730.0</span></div>
<div class="anno">多空转折点<b>5000</b></div>
</body></html>
